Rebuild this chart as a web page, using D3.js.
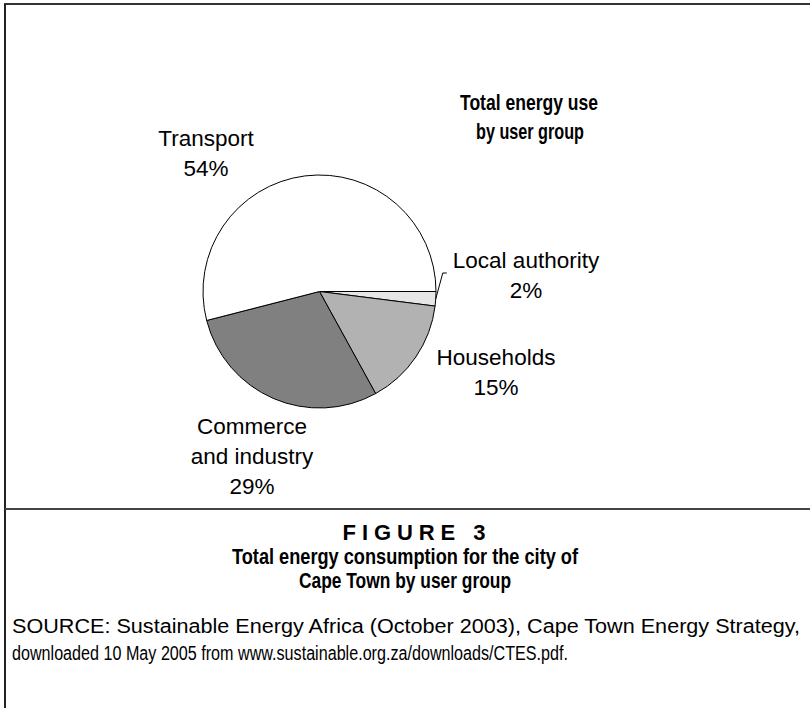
<!DOCTYPE html>
<html>
<head>
<meta charset="utf-8">
<script src="https://cdn.jsdelivr.net/npm/d3@7"></script>
<style>
  html, body { margin: 0; padding: 0; background: #fff; }
  svg { display: block; }
</style>
</head>
<body>
<script>
// ---- Data ----
const categories = ["Local authority", "Households", "Commerce and industry", "Transport"];
const values = [2, 15, 29, 54];
const labelLines = [["Local authority", "2%"], ["Households", "15%"], ["Commerce", "and industry", "29%"], ["Transport", "54%"]];
const fills = ["#e6e6e6", "#b2b2b2", "#808080", "#ffffff"];

const W = 810, H = 709;
const svg = d3.select("body").append("svg").attr("width", W).attr("height", H);

// frame
svg.append("line").attr("x1", 4).attr("x2", W).attr("y1", 4).attr("y2", 4).attr("stroke", "#333").attr("stroke-width", 2);
svg.append("line").attr("x1", 5).attr("x2", 5).attr("y1", 4).attr("y2", 708).attr("stroke", "#222").attr("stroke-width", 2);
svg.append("line").attr("x1", 5).attr("x2", W).attr("y1", 509).attr("y2", 509).attr("stroke", "#444").attr("stroke-width", 2);

// chart title
const title = svg.append("g").attr("font-family", "'Liberation Sans', Arial, sans-serif").attr("font-weight", "bold").attr("font-size", 22).attr("fill", "#000").attr("text-anchor", "middle");
title.append("text").attr("x", 529).attr("y", 110).attr("textLength", 138).attr("lengthAdjust", "spacingAndGlyphs").text("Total energy use");
title.append("text").attr("x", 530).attr("y", 139).attr("textLength", 108).attr("lengthAdjust", "spacingAndGlyphs").text("by user group");

// pie
const cx = 319.5, cy = 291.5, r = 116.5;
const pie = d3.pie().sort(null).value(d => d).startAngle(Math.PI / 2).endAngle(Math.PI / 2 + 2 * Math.PI);
const arcs = pie(values);
const arc = d3.arc().innerRadius(0).outerRadius(r);
const g = svg.append("g").attr("transform", `translate(${cx},${cy})`);
g.selectAll("path").data(arcs).join("path")
  .attr("d", arc)
  .attr("fill", (d, i) => fills[i])
  .attr("stroke", "#000")
  .attr("stroke-width", 1);

// leader line for small slice
const la = arcs[0];
const mid = (la.startAngle + la.endAngle) / 2;
const p0 = [cx + Math.sin(mid) * r, cy - Math.cos(mid) * r];
svg.append("polyline")
  .attr("points", [p0, [p0[0] + 7, 273], [p0[0] + 11, 273]].map(p => p.join(",")).join(" "))
  .attr("fill", "none").attr("stroke", "#000").attr("stroke-width", 1);

// pie labels
const labelPos = [[526, 268], [496, 365], [252, 434], [206, 146]];
const lab = svg.append("g").attr("font-family", "'Liberation Sans', Arial, sans-serif").attr("font-size", 22.5).attr("fill", "#000").attr("text-anchor", "middle");
labelLines.forEach((lines, i) => {
  lines.forEach((t, j) => {
    lab.append("text").attr("x", labelPos[i][0]).attr("y", labelPos[i][1] + j * 30).text(t);
  });
});

// figure caption
const cap = svg.append("g").attr("font-family", "'Liberation Sans', Arial, sans-serif").attr("font-weight", "bold").attr("fill", "#000").attr("text-anchor", "middle");
cap.append("text").attr("x", 414).attr("y", 540).attr("font-size", 22)
  .attr("textLength", 143).attr("lengthAdjust", "spacing").text("FIGURE 3");
cap.append("text").attr("x", 405).attr("y", 564).attr("font-size", 22)
  .attr("textLength", 346).attr("lengthAdjust", "spacingAndGlyphs").text("Total energy consumption for the city of");
cap.append("text").attr("x", 405).attr("y", 588).attr("font-size", 22)
  .attr("textLength", 212).attr("lengthAdjust", "spacingAndGlyphs").text("Cape Town by user group");

// source
const src = svg.append("g").attr("font-family", "'Liberation Sans', Arial, sans-serif").attr("font-size", 19.5).attr("fill", "#000");
src.append("text").attr("x", 12).attr("y", 633).attr("textLength", 788).attr("lengthAdjust", "spacingAndGlyphs")
  .text("SOURCE: Sustainable Energy Africa (October 2003), Cape Town Energy Strategy,");
src.append("text").attr("x", 12).attr("y", 660).attr("textLength", 556).attr("lengthAdjust", "spacingAndGlyphs")
  .text("downloaded 10 May 2005 from www.sustainable.org.za/downloads/CTES.pdf.");
</script>
</body>
</html>
